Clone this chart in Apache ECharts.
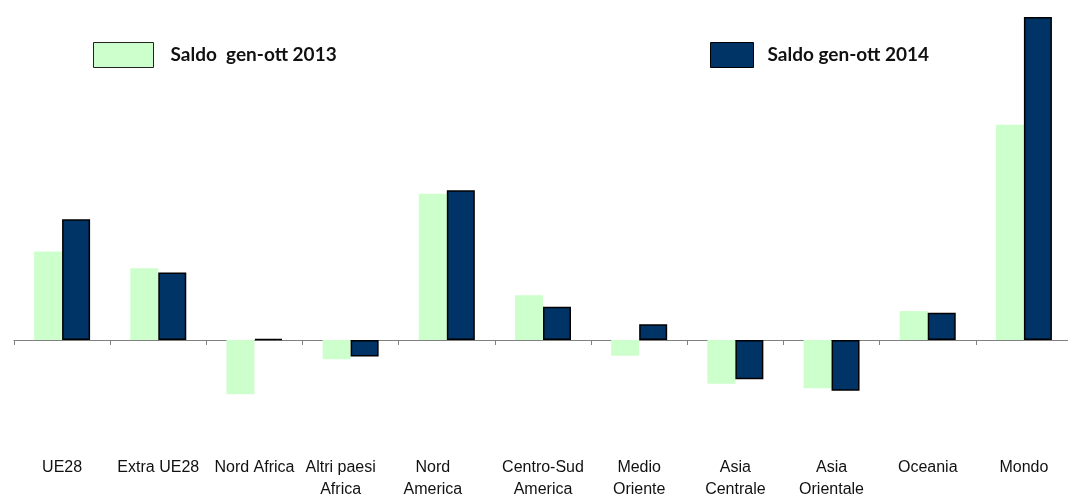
<!DOCTYPE html>
<html>
<head>
<meta charset="utf-8">
<script src="https://cdn.jsdelivr.net/npm/echarts@6/dist/echarts.min.js"></script>
<style>
html,body{margin:0;padding:0;background:#fff;}
#chart{width:1068px;height:498px;}
</style>
</head>
<body>
<div id="chart"></div>
<script>
var categories = ['UE28', 'Extra UE28', 'Nord Africa', 'Altri paesi\nAfrica', 'Nord\nAmerica', 'Centro-Sud\nAmerica', 'Medio\nOriente', 'Asia\nCentrale', 'Asia\nOrientale', 'Oceania', 'Mondo'];
var seriesNames = ['Saldo  gen-ott 2013', 'Saldo gen-ott 2014'];
var saldo2013 = [10.1, 8.2, -6.2, -2.2, 16.7, 5.1, -1.8, -5.0, -5.5, 3.3, 24.6];
var saldo2014 = [13.8, 7.7, 0.1, -1.9, 17.1, 3.8, 1.8, -4.5, -5.8, 3.1, 36.9];

var labelShift = {'Altri paesi\nAfrica': 20, 'Nord\nAmerica': 28};

var chart = echarts.init(document.getElementById('chart'), null, {renderer: 'canvas'});
chart.setOption({
  animation: false,
  backgroundColor: '#ffffff',
  grid: {left: 14, top: 17, width: 1058, height: 438, containLabel: false, outerBoundsMode: 'none'},
  legend: [
    {
      data: [seriesNames[0]], left: 93, top: 42, padding: 0, icon: 'rect', itemWidth: 60, itemHeight: 25,
      itemStyle: {borderColor: '#222', borderWidth: 1},
      textStyle: {fontFamily: 'Lato', fontWeight: 'bold', fontSize: 19, color: '#111', padding: [0, 0, 0, 12]}
    },
    {
      data: [seriesNames[1]], left: 710, top: 42, padding: 0, icon: 'rect', itemWidth: 43, itemHeight: 25,
      itemStyle: {borderColor: '#000', borderWidth: 1},
      textStyle: {fontFamily: 'Lato', fontWeight: 'bold', fontSize: 19, color: '#111', padding: [0, 0, 0, 9]}
    }
  ],
  xAxis: [
    {
      type: 'category',
      position: 'bottom',
      data: categories.map(function (c) {
        return labelShift[c] ? {value: c, textStyle: {padding: [0, labelShift[c], 0, 0]}} : c;
      }),
      axisLine: {show: false, onZero: false},
      axisTick: {show: false},
      axisLabel: {interval: 0, margin: 2, fontFamily: 'Liberation Sans', fontSize: 16, lineHeight: 22, color: '#111'},
      splitLine: {show: false}
    },
    {
      type: 'category',
      position: 'top',
      data: categories,
      axisLine: {show: true, onZero: true, lineStyle: {color: '#808080', width: 1}},
      axisTick: {show: true, inside: true, length: 5, lineStyle: {color: '#808080'}},
      axisLabel: {show: false},
      splitLine: {show: false}
    }
  ],
  yAxis: {
    type: 'value', min: -13.14, max: 36.9,
    show: false, splitLine: {show: false}
  },
  series: [
    {
      name: seriesNames[0], type: 'bar', data: saldo2013, xAxisIndex: 0,
      barWidth: 28, barGap: '0%',
      itemStyle: {color: '#CCFFCC'}
    },
    {
      name: seriesNames[1], type: 'bar', data: saldo2014, xAxisIndex: 0,
      barWidth: 28, barGap: '0%',
      itemStyle: {color: '#003366', borderColor: '#000', borderWidth: 1.5}
    }
  ]
});
</script>
</body>
</html>
